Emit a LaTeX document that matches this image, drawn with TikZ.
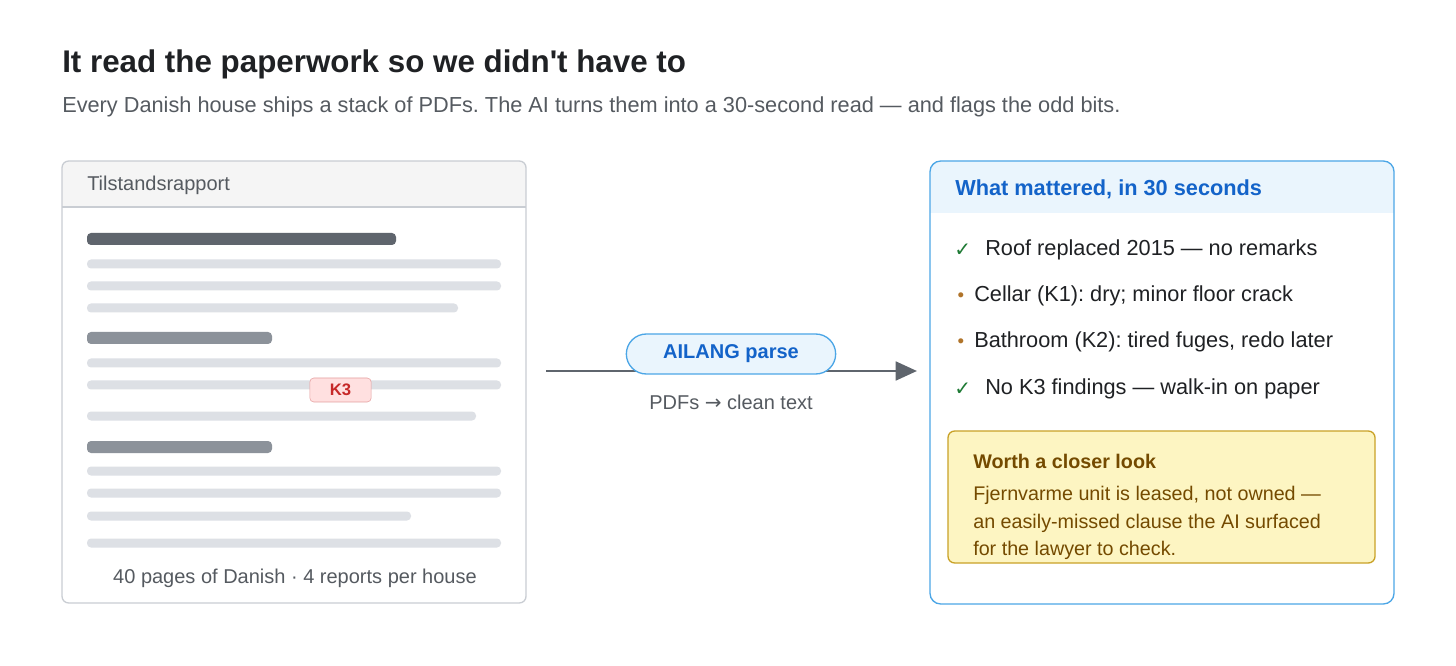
\documentclass[tikz,border=0pt]{standalone}
\usepackage{fontspec}
\setmainfont{Liberation Sans}
\newfontfamily\symfont{DejaVu Sans}
\usetikzlibrary{arrows.meta, positioning}
\definecolor{inkdark}{HTML}{1F2124}
\definecolor{inkgrey}{HTML}{555A60}
\definecolor{barlight}{HTML}{DDE0E5}
\definecolor{bardark}{HTML}{5F656D}
\definecolor{barmid}{HTML}{8C929A}
\definecolor{cardedge}{HTML}{C9CDD3}
\definecolor{blueedge}{HTML}{4CA6E6}
\definecolor{bluefill}{HTML}{EAF5FD}
\definecolor{bluetext}{HTML}{1363C9}
\definecolor{okgreen}{HTML}{1E7A34}
\definecolor{dotbrown}{HTML}{B0742A}
\definecolor{noteedge}{HTML}{C9A227}
\definecolor{notefill}{HTML}{FDF5C2}
\definecolor{notetext}{HTML}{744A00}
\definecolor{badgered}{HTML}{C62828}

\tikzset{
  card/.style={draw=#1, line width=1pt, rounded corners=5pt},
  bar/.style={fill=#1, rounded corners=3pt},
  item/.style={anchor=west, font=\fontsize{16.3}{19}\selectfont, text=inkdark, inner sep=0pt},
  tick/.style={anchor=west, inner sep=0pt, text=okgreen, font=\fontsize{15}{18}\selectfont\symfont\bfseries},
  dot/.style={anchor=center, inner sep=0pt, text=dotbrown, font=\fontsize{14}{16}\selectfont},
  notetxt/.style={anchor=west, font=\fontsize{14.8}{17}\selectfont, text=notetext, inner sep=0pt}
}

\begin{document}
\frenchspacing
\begin{tikzpicture}[x=0.75pt, y=-0.75pt]
    \useasboundingbox (0,0) rectangle (1456,666);

    % Heading
    \node[anchor=west, inner sep=0pt, text=inkdark, font=\fontsize{23.5}{27}\selectfont\bfseries] (title) at (62,64) {It read the paperwork so we didn\textquotesingle t have to};
    \node[anchor=west, inner sep=0pt, text=inkgrey, font=\fontsize{16.3}{19}\selectfont] (subtitle) at (62,107) {Every Danish house ships a stack of PDFs. The AI turns them into a 30-second read — and flags the odd bits.};

    % Report card
    \fill[white] (62,161) rectangle (526,603);
    \fill[gray!8, rounded corners=5pt] (62,161) rectangle (526,207);
    \fill[gray!8] (62,190) rectangle (526,207);
    \draw[cardedge, line width=0.8pt] (62,207) -- (526,207);
    \draw[card=cardedge] (62,161) rectangle (526,603);
    \node[anchor=west, inner sep=0pt, text=inkgrey, font=\fontsize{15}{18}\selectfont] (report) at (87,185) {Tilstandsrapport};

    % Text lines
    \fill[bar=bardark] (87,233) rectangle (396,245);
    \foreach \y/\e in {264/501, 286/501, 308/458, 363/501, 385/501, 416/476, 471/501, 493/501, 516/411, 543/501}
        \fill[bar=barlight] (87,\y-4.5) rectangle (\e,\y+4.5);
    \fill[bar=barmid] (87,332) rectangle (272,344);
    \fill[bar=barmid] (87,441) rectangle (272,453);

    % Badge
    \node[draw=badgered!45, fill=red!12, rounded corners=3pt, minimum width=46pt, minimum height=18pt, text=badgered, font=\fontsize{12.5}{14}\selectfont\bfseries] (badge) at (340.5,390) {K3};

    \node[text=inkgrey, font=\fontsize{15}{18}\selectfont] (footer) at (295,578) {40 pages of Danish · 4 reports per house};

    % Arrow
    \coordinate (from) at (546,371);
    \coordinate (to) at (917,371);
    \draw[-{Triangle[length=16pt, width=14pt]}, bardark, line width=2.2pt] (from) -- (to);
    \node[draw=blueedge, fill=bluefill, line width=1pt, rounded corners=15pt, minimum width=157pt, minimum height=30pt, text=bluetext, font=\fontsize{15}{18}\selectfont\bfseries] (parse) at (731,354) {AILANG parse};
    \node[below=12pt of parse, text=inkgrey, font=\fontsize{15}{18}\selectfont] (pdfs) {PDFs {\symfont →} clean text};

    % Summary card
    \fill[white] (930,161) rectangle (1394,604);
    \fill[bluefill, rounded corners=8pt] (930,161) rectangle (1394,213);
    \fill[bluefill] (930,195) rectangle (1394,213);
    \draw[card=blueedge, rounded corners=8pt] (930,161) rectangle (1394,604);
    \node[anchor=west, inner sep=0pt, text=bluetext, font=\fontsize{16.3}{19}\selectfont\bfseries] (summary) at (955,189) {What mattered, in 30 seconds};

    \node[tick] (c1) at (954,250) {✓};
    \node[item] (i1) at (985,250) {Roof replaced 2015 — no remarks};
    \node[dot] (d1) at (961,297) {•};
    \node[item] (i2) at (974,296) {Cellar (K1): dry; minor floor crack};
    \node[dot] (d2) at (961,343) {•};
    \node[item] (i3) at (974,342) {Bathroom (K2): tired fuges, redo later};
    \node[tick] (c2) at (954,389) {✓};
    \node[item] (i4) at (985,389) {No K3 findings — walk-in on paper};

    % Note
    \draw[card=noteedge, fill=notefill] (948,431) rectangle (1375,563);
    \node[anchor=west, inner sep=0pt, text=notetext, font=\fontsize{14.8}{17}\selectfont\bfseries] (notehead) at (973,461) {Worth a closer look};
    \node[notetxt] (n1) at (973,495) {Fjernvarme unit is leased, not owned —};
    \node[notetxt] (n2) at (973,523) {an easily-missed clause the AI surfaced};
    \node[notetxt] (n3) at (973,550) {for the lawyer to check.};
\end{tikzpicture}
\end{document}
